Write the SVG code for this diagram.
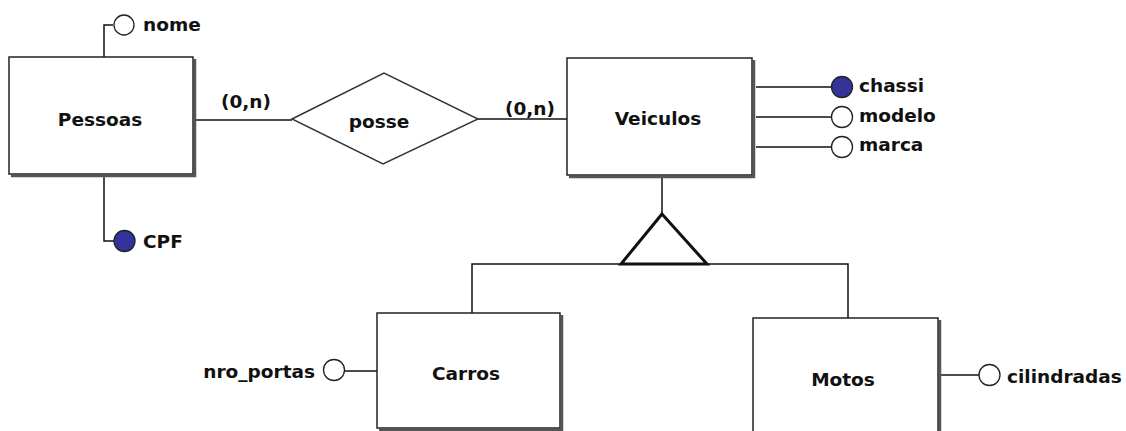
<svg xmlns="http://www.w3.org/2000/svg" width="1126" height="431" viewBox="0 0 1126 431">
<style>
  .box{fill:#fff;stroke:#222;stroke-width:1.5}
  .shadow{fill:none;stroke:#555;stroke-width:2.5}
  .ln{fill:none;stroke:#111;stroke-width:1.5}
  .att{fill:#fff;stroke:#222;stroke-width:1.3}
  .key{fill:#33339a;stroke:#222;stroke-width:1.3}
  text{font-family:"DejaVu Sans","Verdana",sans-serif;font-weight:bold;font-size:18.5px;fill:#111}
  .c{text-anchor:middle}
</style>
<rect width="1126" height="431" fill="#fff"/>
<g id="connectors">
  <polyline class="ln" points="104,57 104,25 113,25"/>
  <polyline class="ln" points="104,177 104,241 114,241"/>
  <line class="ln" x1="196" y1="120" x2="292" y2="120"/>
  <line class="ln" x1="478" y1="119" x2="568" y2="119"/>
  <line class="ln" x1="756" y1="87" x2="831" y2="87"/>
  <line class="ln" x1="756" y1="117" x2="831" y2="117"/>
  <line class="ln" x1="756" y1="147" x2="831" y2="147"/>
  <line class="ln" x1="662" y1="178" x2="662" y2="214"/>
  <polyline class="ln" points="472,313 472,264 848,264 848,318"/>
  <line class="ln" x1="345" y1="371" x2="377" y2="371"/>
  <line class="ln" x1="940" y1="375" x2="979" y2="375"/>
  <text x="246" y="108" class="c">(0,n)</text>
  <text x="530" y="115" class="c">(0,n)</text>
</g>
<g id="pessoas">
  <polyline class="shadow" points="195,59 195,176 11,176"/>
  <rect class="box" x="9" y="57" width="184" height="117"/>
  <text x="100" y="126" class="c">Pessoas</text>
</g>
<g id="attr-nome">
  <circle class="att" cx="124" cy="25" r="10"/>
  <text x="143" y="31">nome</text>
</g>
<g id="attr-cpf">
  <circle class="key" cx="124.5" cy="241" r="10.5"/>
  <text x="143" y="248">CPF</text>
</g>
<g id="posse">
  <polygon points="292,119 384,73 478,119 383,164" fill="#fff" stroke="#333" stroke-width="1.4"/>
  <text x="379" y="128" class="c">posse</text>
</g>
<g id="veiculos">
  <polyline class="shadow" points="754,60 754,177 569,177"/>
  <rect class="box" x="567" y="58" width="185" height="117"/>
  <text x="658" y="125" class="c">Veiculos</text>
</g>
<g id="attr-chassi">
  <circle class="key" cx="842" cy="87" r="10.5"/>
  <text x="859" y="92">chassi</text>
</g>
<g id="attr-modelo">
  <circle class="att" cx="842" cy="117" r="10.5"/>
  <text x="859" y="122">modelo</text>
</g>
<g id="attr-marca">
  <circle class="att" cx="842" cy="147" r="10.5"/>
  <text x="859" y="151">marca</text>
</g>
<g id="especializacao">
  <polygon points="662,214 621,264 707,264" fill="#fff" stroke="#111" stroke-width="3" stroke-linejoin="miter"/>
</g>
<g id="carros">
  <polyline class="shadow" points="562,315 562,430 379,430"/>
  <rect class="box" x="377" y="313" width="183" height="115"/>
  <text x="466" y="380" class="c">Carros</text>
</g>
<g id="attr-nro_portas">
  <circle class="att" cx="334" cy="370" r="10.5"/>
  <text x="315" y="378" text-anchor="end">nro_portas</text>
</g>
<g id="motos">
  <polyline class="shadow" points="940,320 940,445"/>
  <rect class="box" x="753" y="318" width="185" height="125"/>
  <text x="843" y="386" class="c">Motos</text>
</g>
<g id="attr-cilindradas">
  <circle class="att" cx="989.5" cy="375" r="10.5"/>
  <text x="1007" y="383">cilindradas</text>
</g>
</svg>
